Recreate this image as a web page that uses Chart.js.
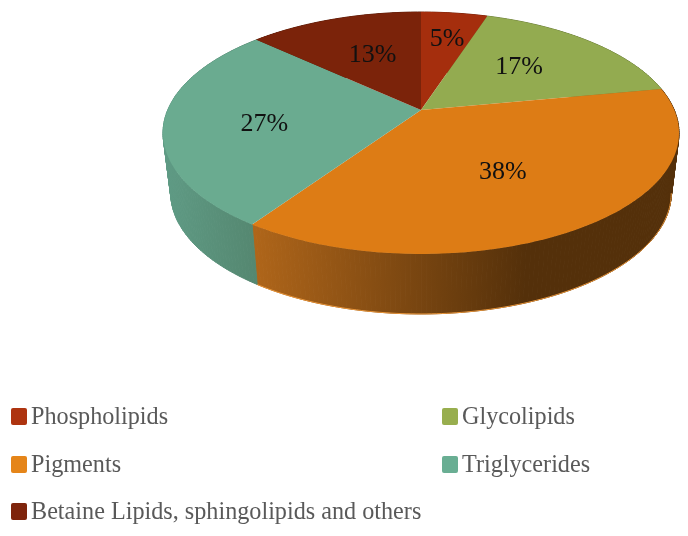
<!DOCTYPE html>
<html>
<head>
<meta charset="utf-8">
<title>Lipid classes</title>
<script src="https://cdn.jsdelivr.net/npm/chart.js@4"></script>
<style>
    html, body { margin: 0; padding: 0; background: #fff; }
    canvas { display: block; }
</style>
</head>
<body>
<canvas id="pie" width="688" height="536"></canvas>
<script>
const categories = ['Phospholipids', 'Glycolipids', 'Pigments', 'Triglycerides', 'Betaine Lipids, sphingolipids and others'];
const shares = [5, 17, 37.5, 27.4, 13.1];
const topColors = ['#A52E0D', '#93AB50', '#DD7C15', '#6AAB90', '#7B230A'];
const legendColors = ['#AE3410', '#98AE4E', '#E58519', '#69AE93', '#7E240C'];
const wallColors = [
    ['#7A2209', '#7A2209'],
    ['#6D7F3A', '#6D7F3A'],
    ['#B0661A', '#54300A'],
    ['#5F9B85', '#54866F'],
    ['#5C1A07', '#5C1A07']
];
// where each percentage sits: reach along the slice (0 centre, 1 rim), then a small nudge
const labelReach = [0.72, 0.57, 0.55, 0.61, 0.58];
const labelNudge = [[1, 2], [-3, -2], [-2, 3], [-1, 6], [5, 1]];
const legendSlots = [[11, 424], [442, 424], [11, 472], [442, 472], [11, 519]];

// tilted disc: perspective puts the apex above the middle of the ellipse
const cx = 421, apexY = 110, spreadX = 253.3, spreadY = 95.7, tilt = -0.19;
const wallDepth = 60, wallShrink = 0.97;

function project(angle, r) {
    const u = Math.cos(angle) * r, v = Math.sin(angle) * r;
    const d = 1 + tilt * v;
    return { x: cx + spreadX * u / d, y: (spreadY * v + apexY) / d };
}
function lower(p) {
    return { x: cx + (p.x - cx) * wallShrink, y: p.y + wallDepth };
}
function rim(start, end) {
    const n = Math.max(2, Math.ceil((end - start) * 60));
    const pts = [];
    for (let i = 0; i <= n; i++) pts.push(project(start + (end - start) * i / n, 1));
    return pts;
}

const tiltedPie = {
    id: 'tiltedPie',
    beforeDatasetDraw(chart, args) {
        const c = chart.ctx;
        const arcs = args.meta.data;

        // side walls first, the top covers whatever is behind
        arcs.forEach((arc, i) => {
            const top = rim(arc.startAngle, arc.endAngle);
            const bottom = top.map(lower);
            const xs = top.concat(bottom).map(p => p.x);
            const g = c.createLinearGradient(Math.min(...xs), 0, Math.min(Math.max(...xs), 525), 0);
            g.addColorStop(0, wallColors[i][0]);
            g.addColorStop(1, wallColors[i][1]);
            c.fillStyle = g;
            c.strokeStyle = g;
            c.lineWidth = 1;
            c.lineJoin = 'round';
            for (let k = 0; k < top.length - 1; k++) {
                c.beginPath();
                c.moveTo(top[k].x, top[k].y);
                c.lineTo(top[k + 1].x, top[k + 1].y);
                c.lineTo(bottom[k + 1].x, bottom[k + 1].y);
                c.lineTo(bottom[k].x, bottom[k].y);
                c.closePath();
                c.fill();
                c.stroke();
            }
            // thin light edge on the pigments wall, only from the rightmost point round the front
            if (i === 2) {
                const widest = bottom.reduce((best, p, k) => p.x > bottom[best].x ? k : best, 0);
                c.strokeStyle = '#E8953A';
                c.beginPath();
                bottom.slice(widest).forEach((p, k) => k ? c.lineTo(p.x, p.y) : c.moveTo(p.x, p.y));
                c.stroke();
            }
        });

        arcs.forEach((arc, i) => {
            c.beginPath();
            c.moveTo(cx, apexY);
            rim(arc.startAngle, arc.endAngle).forEach(p => c.lineTo(p.x, p.y));
            c.closePath();
            c.fillStyle = topColors[i];
            c.fill();
        });
        return false;
    },
    afterDraw(chart) {
        const c = chart.ctx;
        const arcs = chart.getDatasetMeta(0).data;

        c.font = '26px "Liberation Serif"';
        c.fillStyle = '#111';
        c.textAlign = 'center';
        c.textBaseline = 'middle';
        arcs.forEach((arc, i) => {
            const p = project((arc.startAngle + arc.endAngle) / 2, labelReach[i]);
            c.fillText(Math.round(shares[i]) + '%', p.x + labelNudge[i][0], p.y + labelNudge[i][1]);
        });

        c.font = '24.2px "Liberation Serif"';
        c.textAlign = 'left';
        c.textBaseline = 'alphabetic';
        categories.forEach((name, i) => {
            const [x, base] = legendSlots[i];
            c.fillStyle = legendColors[i];
            c.beginPath();
            c.roundRect(x, base - 16, 16, 17, 2);
            c.fill();
            c.fillStyle = '#595959';
            c.fillText(name, x + 20, base);
        });
    }
};

new Chart(document.getElementById('pie'), {
    type: 'pie',
    data: {
        labels: categories,
        datasets: [{ data: shares, backgroundColor: topColors, borderWidth: 0 }]
    },
    options: {
        responsive: false,
        animation: false,
        plugins: { legend: { display: false }, tooltip: { enabled: false } }
    },
    plugins: [tiltedPie]
});
</script>
</body>
</html>
